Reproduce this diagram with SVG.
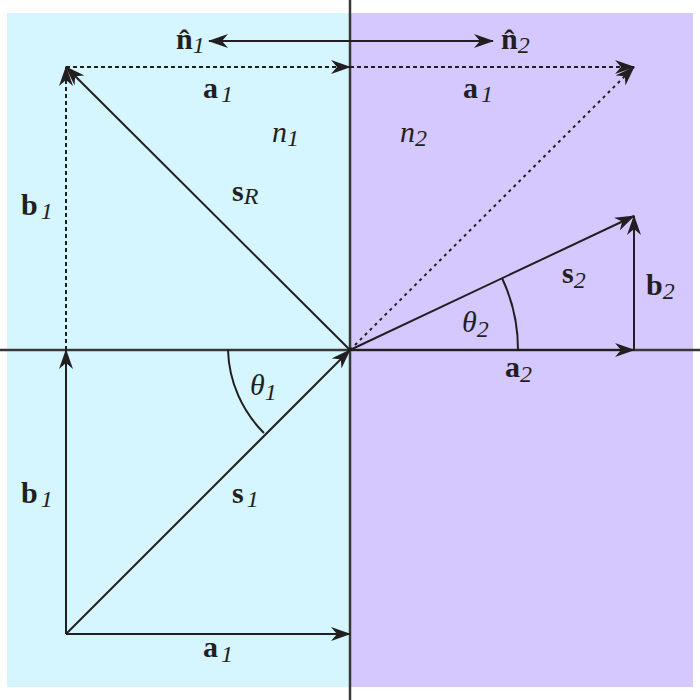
<svg xmlns="http://www.w3.org/2000/svg" width="700" height="700" viewBox="0 0 700 700">
<defs>
<marker id="ah" viewBox="0 0 20 14" refX="19" refY="7" markerWidth="20" markerHeight="14" markerUnits="userSpaceOnUse" orient="auto-start-reverse">
<path d="M0,0 L20,7 L0,14 L6,7 Z" fill="#231f20"/>
</marker>
</defs>
<style>
.vec{stroke:#231f20;stroke-width:2;fill:none}
.dash{stroke-dasharray:4,3}
.dot{stroke-dasharray:3,4}
.axis{stroke:#383838;stroke-width:2.5}
.arc{stroke:#231f20;stroke-width:2;fill:none}
text{font-size:30px;fill:#231f20}
.b{font-weight:bold}
.i{font-style:italic}
.sub{font-style:italic;font-size:24px;font-weight:normal}
</style>
<g id="background">
<rect x="7" y="13" width="343" height="674" fill="#d5f5ff"/>
<rect x="350" y="13" width="343" height="674" fill="#d5c8ff"/>
</g>
<g id="axes">
<line class="axis" x1="350" y1="0" x2="350" y2="700"/>
<line class="axis" x1="0" y1="350" x2="700" y2="350"/>
</g>
<g id="connectors">
<line class="vec" x1="66" y1="634" x2="350" y2="634" marker-end="url(#ah)"/>
<line class="vec" x1="66" y1="634" x2="66" y2="350" marker-end="url(#ah)"/>
<line class="vec" x1="66" y1="634" x2="350" y2="350" marker-end="url(#ah)"/>
<line class="vec" x1="350" y1="350" x2="66" y2="67" marker-end="url(#ah)"/>
<line class="vec dash" x1="66" y1="350" x2="66" y2="67" marker-end="url(#ah)"/>
<line class="vec dash" x1="66" y1="67" x2="350" y2="67" marker-end="url(#ah)"/>
<line class="vec dash" x1="350" y1="67" x2="634" y2="67" marker-end="url(#ah)"/>
<line class="vec dot" x1="350" y1="350" x2="634" y2="67" marker-end="url(#ah)"/>
<line class="vec" x1="350" y1="350" x2="634" y2="216" marker-end="url(#ah)"/>
<line class="vec" x1="634" y1="350" x2="634" y2="216" marker-end="url(#ah)"/>
<line class="vec" x1="350" y1="350" x2="634" y2="350" marker-end="url(#ah)"/>
<line class="vec" x1="209" y1="41" x2="493" y2="41" marker-start="url(#ah)" marker-end="url(#ah)"/>
<path class="arc" d="M228,350 A122,122 0 0 0 264,433"/>
<path class="arc" d="M518,350 A168,168 0 0 0 502,278"/>
</g>
<g id="labels" font-family="'Liberation Serif', Tinos, 'Times New Roman', serif">
<text x="176" y="49" class="b">n̂<tspan class="sub" dy="4">1</tspan></text>
<text x="501" y="49" class="b">n̂<tspan class="sub" dy="4">2</tspan></text>
<text x="203" y="98" class="b">a<tspan class="sub" dx="3" dy="4">1</tspan></text>
<text x="463" y="98" class="b">a<tspan class="sub" dx="3" dy="4">1</tspan></text>
<text x="272" y="142" class="i">n<tspan class="sub" dy="4">1</tspan></text>
<text x="400" y="142" class="i">n<tspan class="sub" dy="4">2</tspan></text>
<text x="232" y="201" class="b">s<tspan class="sub" dy="3">R</tspan></text>
<text x="21" y="215" class="b">b<tspan class="sub" dx="3" dy="4">1</tspan></text>
<text x="21" y="503" class="b">b<tspan class="sub" dx="3" dy="4">1</tspan></text>
<text x="232" y="503" class="b">s<tspan class="sub" dx="3" dy="4">1</tspan></text>
<text x="203" y="657" class="b">a<tspan class="sub" dx="3" dy="5">1</tspan></text>
<text x="250" y="395" class="i">θ<tspan class="sub" dy="5">1</tspan></text>
<text x="462" y="332" class="i">θ<tspan class="sub" dy="5">2</tspan></text>
<text x="562" y="283" class="b">s<tspan class="sub" dy="5">2</tspan></text>
<text x="646" y="295" class="b">b<tspan class="sub" dy="4">2</tspan></text>
<text x="505" y="377" class="b">a<tspan class="sub" dy="5">2</tspan></text>
</g>
</svg>
